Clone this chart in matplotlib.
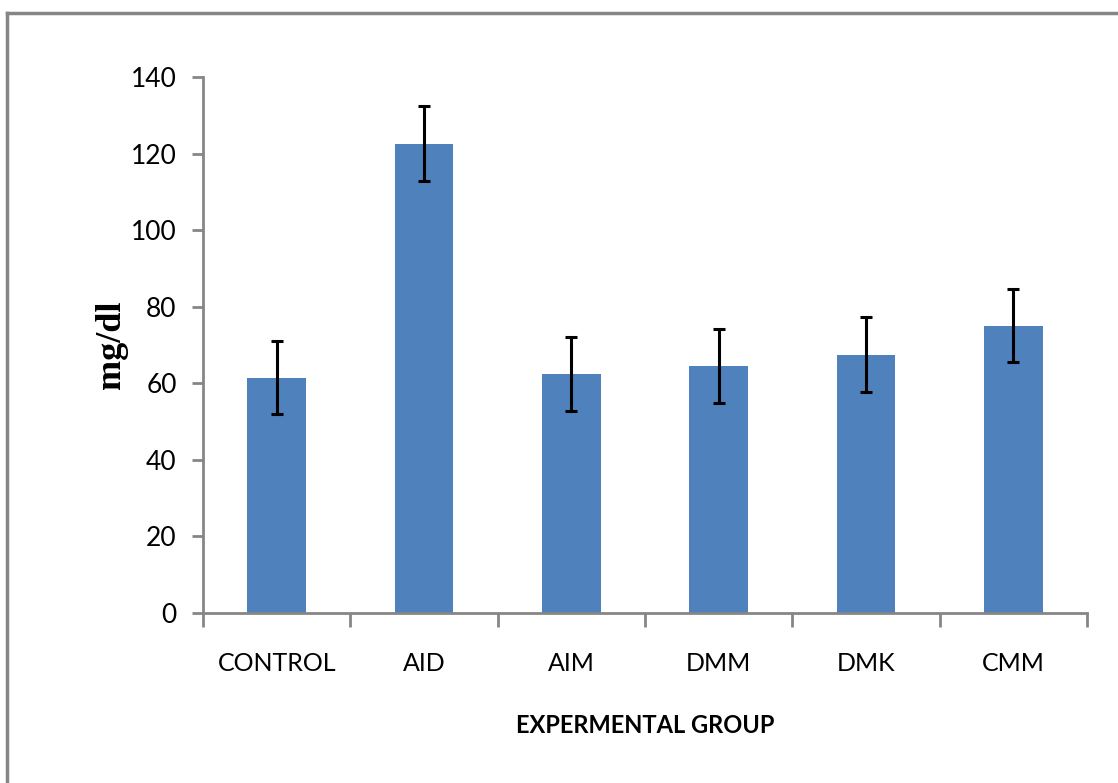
import numpy as np
import matplotlib
matplotlib.use("Agg")
import matplotlib.pyplot as plt
from matplotlib.lines import Line2D

# data
groups = ["CONTROL", "AID", "AIM", "DMM", "DMK", "CMM"]
means = [61.5, 122.5, 62.5, 64.5, 67.5, 75.0]
errs = [9.5, 9.8, 9.7, 9.6, 9.7, 9.5]
yticks = [0, 20, 40, 60, 80, 100, 120, 140]

# style
sans = ["Lato", "DejaVu Sans"]
blue = "#4F81BD"
grey = "#868686"

fig = plt.figure(figsize=(11.18, 7.83), dpi=100)
ax = fig.add_axes([0.1816, 0.2171, 0.7907, 0.6846])

x = np.arange(len(groups))
ax.bar(x, means, width=0.4, color=blue, zorder=2)
ax.errorbar(x, means, yerr=errs, fmt="none", ecolor="black", elinewidth=2.2,
            capsize=4.5, capthick=2.2, zorder=3)

ax.set_xlim(-0.5, len(groups) - 0.5)
ax.set_ylim(0, 140)
ax.set_yticks(yticks)
ax.set_yticklabels([str(v) for v in yticks], family=sans, fontsize=19)

# category labels centred, tick marks on boundaries
ax.set_xticks(x)
ax.set_xticklabels(groups, family=sans, fontsize=18)
ax.set_xticks(np.arange(len(groups) + 1) - 0.5, minor=True)
ax.tick_params(axis="x", which="major", length=0, pad=28)
ax.tick_params(axis="x", which="minor", length=10, width=2, color=grey, direction="out")
ax.tick_params(axis="y", length=8, width=2, color=grey, direction="out", pad=11)

for s in ["top", "right"]:
    ax.spines[s].set_visible(False)
for s in ["left", "bottom"]:
    ax.spines[s].set_color(grey)
    ax.spines[s].set_linewidth(2)

ax.set_xlabel("EXPERMENTAL GROUP", family=sans, fontweight="bold", fontsize=17)
ax.xaxis.set_label_coords(0.5, -0.209)
ax.xaxis.label.set_va("center")
ax.set_ylabel("mg/dl", family=["Liberation Serif", "DejaVu Serif"], fontweight="bold",
              fontsize=26)
ax.yaxis.set_label_coords(-0.103, 0.5)
ax.yaxis.label.set_va("center")

# outer frame (top and left only)
fig.add_artist(Line2D([0.0063, 1.0], [0.9834, 0.9834], transform=fig.transFigure,
                      color=grey, lw=2.5))
fig.add_artist(Line2D([0.0063, 0.0063], [0.0, 0.9834], transform=fig.transFigure,
                      color=grey, lw=2.5))

fig.savefig("out.png", dpi=100)
